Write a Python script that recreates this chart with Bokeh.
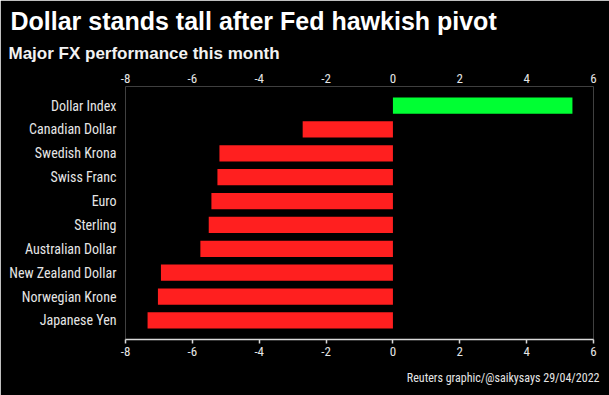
from bokeh.plotting import figure
from bokeh.models import FactorRange, Range1d, LinearAxis, FixedTicker, Title, ColumnDataSource
from bokeh.embed import file_html
from bokeh.resources import INLINE

currencies = ["Dollar Index", "Canadian Dollar", "Swedish Krona", "Swiss Franc", "Euro",
              "Sterling", "Australian Dollar", "New Zealand Dollar", "Norwegian Krone", "Japanese Yen"]
performance = [5.37, -2.70, -5.19, -5.25, -5.43, -5.51, -5.76, -6.94, -7.03, -7.34]
x_ticks = [-8, -6, -4, -2, 0, 2, 4, 6]

title_text = "Dollar stands tall after Fed hawkish pivot"
subtitle_text = "Major FX performance this month"
source_text = "Reuters graphic/@saikysays 29/04/2022"

W, H = 609, 395
BG = "#000000"
TXT = "#e6e6e6"
LBL = "Roboto Condensed, Arial Narrow, sans-serif"

tick_labels = {t: str(t) for t in x_ticks}
colors = ["#00ff33" if v > 0 else "#ff1f1f" for v in performance]
src = ColumnDataSource(dict(cur=currencies, val=performance, color=colors))

p = figure(width=W, height=H, output_backend="svg", toolbar_location=None,
           y_range=FactorRange(factors=list(reversed(currencies)), range_padding=0.3,
                               range_padding_units="absolute"),
           x_range=Range1d(-8, 6), x_axis_location="above",
           min_border_left=125, min_border_right=16, min_border_top=86, min_border_bottom=56,
           background_fill_color=BG, border_fill_color=BG, outline_line_color=None)

p.hbar(y="cur", left=0, right="val", height=0.68, color="color", source=src, line_color=None)

p.grid.visible = False

# top axis: labels only
top = p.xaxis[0]
top.ticker = FixedTicker(ticks=x_ticks)
top.major_label_overrides = tick_labels
top.axis_line_color = None
top.major_tick_line_color = None
top.minor_tick_line_color = None
top.major_tick_out = 0
top.major_tick_in = 0
top.major_label_standoff = 4
top.major_label_text_color = TXT
top.major_label_text_font = LBL
top.major_label_text_font_size = "13px"

bottom = LinearAxis(ticker=FixedTicker(ticks=x_ticks))
bottom.major_label_overrides = tick_labels
bottom.axis_line_color = "#d9d9d9"
bottom.axis_line_width = 1.5
bottom.major_tick_line_color = "#d9d9d9"
bottom.major_tick_line_width = 1.5
bottom.minor_tick_line_color = None
bottom.major_tick_in = 0
bottom.major_tick_out = 4
bottom.major_label_standoff = 3
bottom.major_label_text_color = TXT
bottom.major_label_text_font = LBL
bottom.major_label_text_font_size = "13px"
p.add_layout(bottom, "below")

ya = p.yaxis[0]
ya.axis_line_color = None
ya.major_tick_line_color = None
ya.minor_tick_line_color = None
ya.major_tick_out = 0
ya.major_label_standoff = 9
ya.major_label_text_color = TXT
ya.major_label_text_font = LBL
ya.major_label_text_font_size = "14px"

p.add_layout(Title(text=subtitle_text, text_font="Liberation Sans", text_font_style="bold",
                   text_font_size="17px", text_color="#f2f2f2", standoff=15,
                   text_line_height=1.0, offset=-117), "above")
p.add_layout(Title(text=title_text, text_font="Liberation Sans", text_font_style="bold",
                   text_font_size="25px", text_color="#ffffff", standoff=0,
                   text_line_height=1.0, offset=-115), "above")
p.add_layout(Title(text=source_text, text_font=LBL, text_font_style="normal",
                   text_font_size="12px", text_color=TXT, align="right",
                   standoff=20, offset=-6), "below")

open("out.html", "w").write(file_html(p, INLINE))
